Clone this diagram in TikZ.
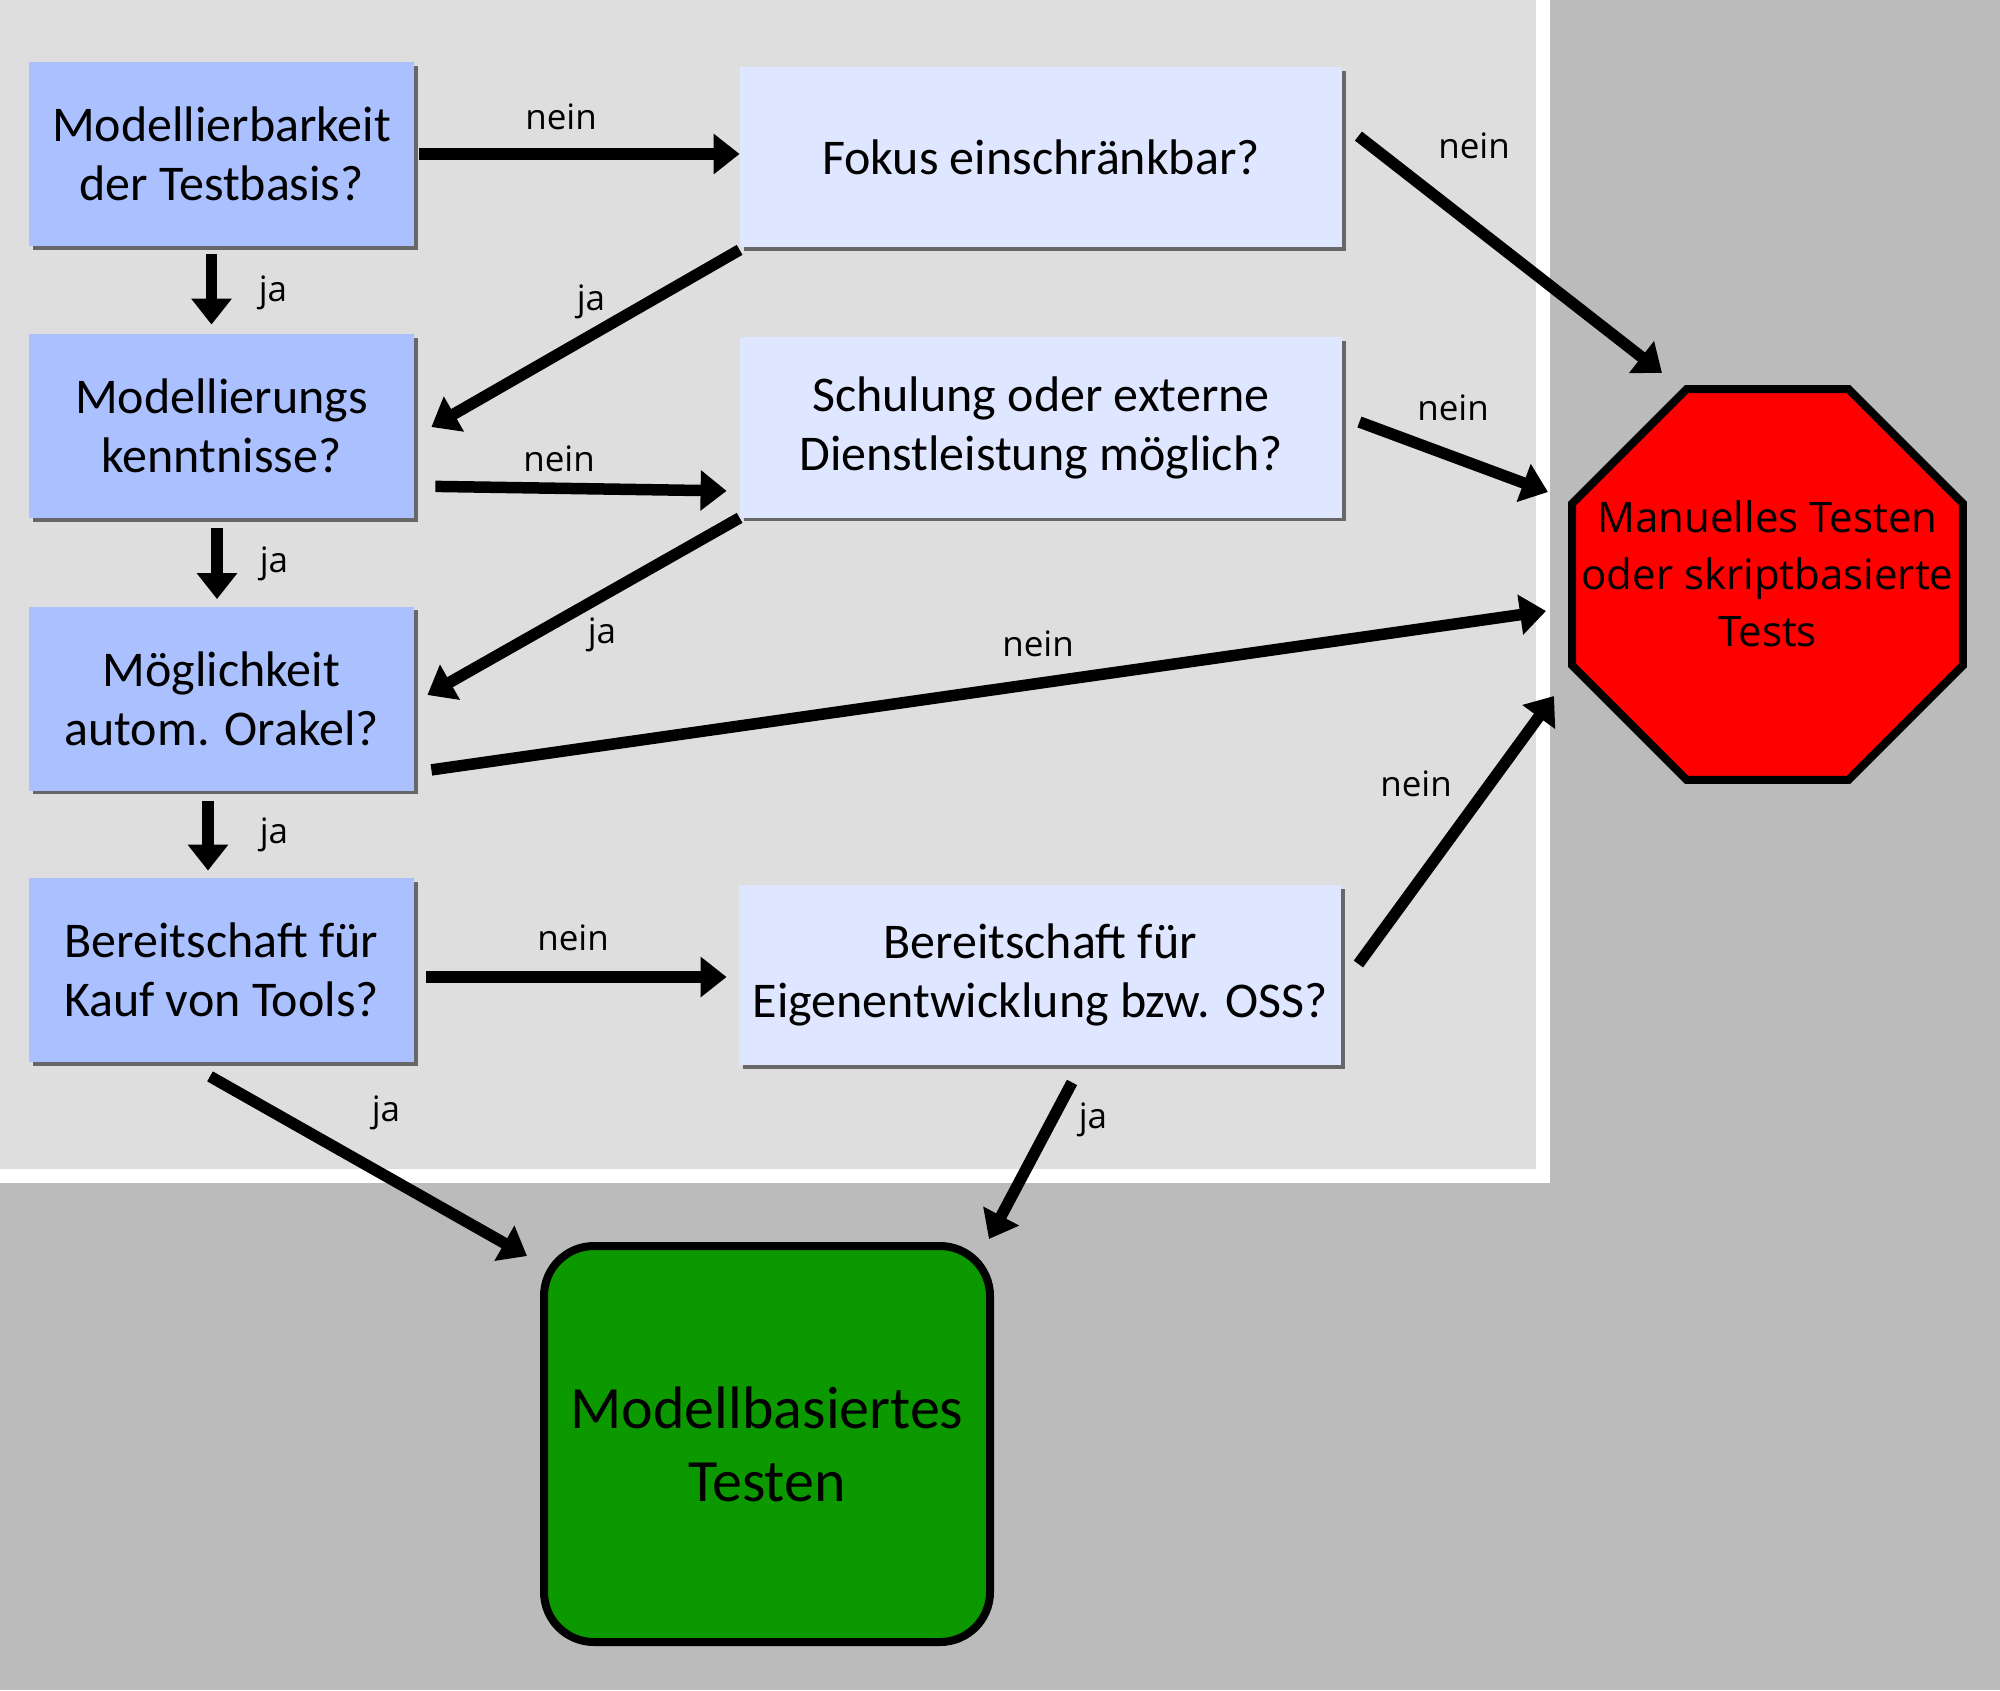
\documentclass[tikz,border=0pt]{standalone}
\usepackage{fontspec}
\setmainfont{Carlito}
\newfontfamily\octfont{Open Sans}
\usetikzlibrary{arrows.meta,shapes.geometric,shadows}
\definecolor{bglight}{HTML}{DEDEDE}
\definecolor{bgdark}{HTML}{BBBBBB}
\definecolor{qblue}{HTML}{AAC0FF}
\definecolor{qpale}{HTML}{DFE6FF}
\definecolor{okgreen}{HTML}{0C9900}
\definecolor{stopred}{HTML}{FF0000}
\begin{document}
\begin{tikzpicture}[x=0.5pt,y=-0.5pt,
  boxshadow/.style={drop shadow={shadow xshift=1.8pt,shadow yshift=-1.8pt,opacity=0.75,fill=black!75}},
  qbox/.style={rectangle,fill=qblue,minimum width=192.5pt,minimum height=92pt,align=center,inner sep=0pt,
    font=\fontsize{25}{29.5}\selectfont,boxshadow},
  pbox/.style={rectangle,fill=qpale,minimum width=301pt,minimum height=90pt,align=center,inner sep=0pt,
    font=\fontsize{25}{29.5}\selectfont,boxshadow},
  arr/.style={line width=5.75pt,-{Triangle[length=13pt,width=19.5pt]}},
  lbl/.style={font=\octfont\fontsize{17.5}{20}\selectfont,inner sep=0pt}
]
\useasboundingbox (0,0) rectangle (2000,1690);
\fill[bgdark] (0,0) rectangle (2000,1690);
\fill[white] (0,0) rectangle (1550,1183);
\fill[bglight] (0,0) rectangle (1536,1169);

\node[qbox] (b1) at (221.5,154) {Modellierbarkeit\\der Testbasis?};
\node[qbox] (b2) at (221.5,426) {Modellierungs\\kenntnisse?};
\node[qbox] (b3) at (221.5,698.5) {Möglichkeit\\autom. Orakel?};
\node[qbox] (b4) at (221.5,970) {Bereitschaft für\\Kauf von Tools?};
\node[pbox] (fokus) at (1041,157.5) {Fokus einschränkbar?};
\node[pbox] (schul) at (1041,427.5) {Schulung oder externe\\Dienstleistung möglich?};
\node[pbox] (eigen) at (1040,975) {Bereitschaft für\\Eigenentwicklung bzw. OSS?};

\node[rectangle,rounded corners=25pt,fill=okgreen,draw=black,line width=4pt,
  minimum width=223pt,minimum height=198pt,align=center,inner sep=0pt,
  font=\fontsize{30}{36.5}\selectfont] (mbt) at (767,1444) {Modellbasiertes\\Testen};

\node[regular polygon,regular polygon sides=8,fill=stopred,draw=black,line width=4pt,
  minimum size=211.5pt,inner sep=0pt,
  label={[align=center,inner sep=0pt,yshift=5.5pt,text=black,font=\octfont\fontsize{21}{28.5}\selectfont]center:Manuelles Testen\\oder skriptbasierte\\Tests}] (stop) at (1767.5,584.5) {};

% connectors
\draw[arr,shorten <=2.5pt] (b1.east) -- (b1.east -| fokus.west);
\draw[arr,shorten <=4pt,shorten >=4.5pt] ([xshift=-5pt]b1.south) -- ([xshift=-5pt]b2.north);
\draw[arr] ([yshift=-1pt]fokus.south west) -- ([xshift=8.5pt,yshift=-0.5pt]b2.east);
\draw[arr] ([xshift=10.5pt,yshift=16pt]b2.south east) -- ([xshift=-6.5pt,yshift=13.5pt]schul.south west);
\draw[arr,shorten <=5pt,shorten >=3.5pt] ([xshift=-2.25pt]b2.south) -- ([xshift=-2.25pt]b3.north);
\draw[arr] (schul.south west) -- ([xshift=6.5pt,yshift=1.75pt]b3.east);
\draw[arr] ([xshift=8.5pt,yshift=10.5pt]b3.south east) -- ([shift={(-110.75pt,-13.25pt)}]stop.center);
\draw[arr,shorten <=5pt,shorten >=3.5pt] ([xshift=-6.75pt]b3.south) -- ([xshift=-6.75pt]b4.north);
\draw[arr] ([xshift=6pt,yshift=-3.5pt]b4.east) -- ([xshift=-6pt,yshift=-1pt]eigen.west);
\draw[arr] ([xshift=-5.75pt,yshift=-7pt]b4.south) -- ([xshift=-6.5pt,yshift=-7pt]mbt.north west);
\draw[arr] ([xshift=16pt,yshift=-8.5pt]eigen.south) -- ([xshift=-2.5pt,yshift=1.5pt]mbt.north east);
\draw[arr] ([xshift=8pt,yshift=-34.5pt]fokus.north east) -- ([shift={(-52.75pt,105.75pt)}]stop.center);
\draw[arr] ([xshift=8.5pt,yshift=2.75pt]schul.east) -- ([shift={(-109.75pt,46.25pt)}]stop.center);
\draw[arr] ([xshift=8.5pt,yshift=5.5pt]eigen.east) -- ([shift={(-106.75pt,-55.75pt)}]stop.center);

% labels
\node[lbl] (l1) at (561,117) {nein};
\node[lbl] (l2) at (273,293) {ja};
\node[lbl] (l3) at (591,302) {ja};
\node[lbl] (l4) at (559,459) {nein};
\node[lbl] (l5) at (274,564) {ja};
\node[lbl] (l6) at (602,635) {ja};
\node[lbl] (l7) at (1038,644) {nein};
\node[lbl] (l8) at (274,835) {ja};
\node[lbl] (l9) at (573,938) {nein};
\node[lbl] (l10) at (386,1113) {ja};
\node[lbl] (l11) at (1093,1120) {ja};
\node[lbl] (l12) at (1474,146) {nein};
\node[lbl] (l13) at (1453,408) {nein};
\node[lbl] (l14) at (1416,784) {nein};
\end{tikzpicture}
\end{document}
